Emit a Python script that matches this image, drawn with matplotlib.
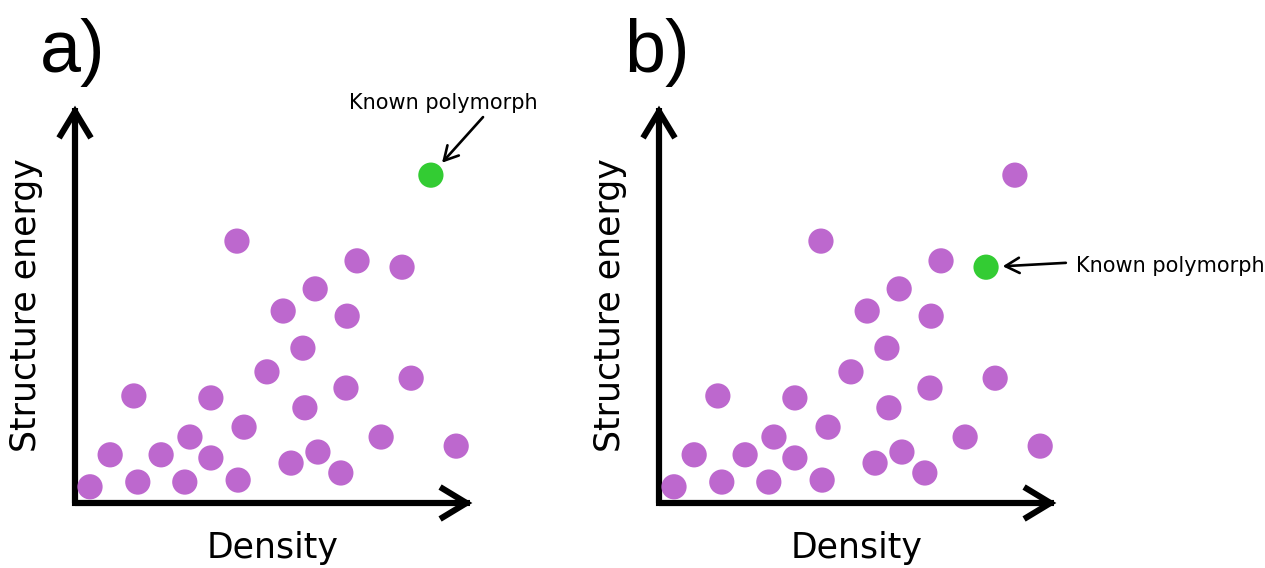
import matplotlib
matplotlib.use("Agg")
import matplotlib.pyplot as plt

# ---- data (arbitrary units, 0-100 along each axis) ----
density = [3.8, 8.9, 15.9, 14.9, 21.8, 27.8, 29.1, 34.4, 34.4, 41.3, 42.8, 41.0, 48.6,
           52.7, 54.7, 57.7, 58.2, 60.8, 61.5, 67.3, 68.6, 68.9, 71.4, 77.5, 85.1, 96.5]
energy = [4.1, 12.2, 5.3, 27.1, 12.2, 5.3, 16.7, 26.6, 11.4, 5.8, 19.2, 66.3, 33.2,
          48.6, 10.1, 39.2, 24.1, 54.2, 12.9, 7.6, 29.1, 47.3, 61.3, 16.7, 31.6, 14.4]

# two special structures: in panel a the known polymorph is the high one,
# in panel b it is the lower one
point_high = (90.1, 83.0)
point_low = (82.8, 59.7)

panel_labels = ["a)", "b)"]
x_label = "Density"
y_label = "Structure energy"
known_label = "Known polymorph"

PURPLE = "#BD68CE"
GREEN = "#33CC33"

W, H = 1265, 568
fig = plt.figure(figsize=(W / 100, H / 100), dpi=100)

panel_left_px = [75, 659]
origin_y_px = 503
size_px = 395


def draw_panel(ax, known, other, text_xy, tail_xy, ha):
    ax.set_xlim(0, 100)
    ax.set_ylim(0, 100)
    ax.axis("off")
    # axes with arrows
    ax.plot([0, 0, 100], [100, 0, 0], color="black", lw=4.4,
            solid_joinstyle="miter", solid_capstyle="butt", clip_on=False)
    for tip in [(100.6, 0), (0, 100.6)]:
        ax.annotate("", xy=tip, xytext=(0, 0), xycoords="data",
                    arrowprops=dict(arrowstyle="->,head_length=1.9,head_width=1.15",
                                    lw=4.4, color="black", shrinkA=0, shrinkB=0,
                                    joinstyle="miter", capstyle="butt"),
                    annotation_clip=False)
    xs = list(density) + [other[0]]
    ys = list(energy) + [other[1]]
    ax.scatter(xs, ys, s=330, color=PURPLE, edgecolors="none", clip_on=False, zorder=3)
    ax.scatter([known[0]], [known[1]], s=330, color=GREEN, edgecolors="none",
               clip_on=False, zorder=3)
    ax.annotate("", xy=known, xytext=tail_xy,
                arrowprops=dict(arrowstyle="->,head_length=1.0,head_width=0.55",
                                lw=1.9, color="black", shrinkA=0, shrinkB=12),
                annotation_clip=False)
    ax.text(text_xy[0], text_xy[1], known_label, fontsize=15, ha=ha, va="baseline",
            family="DejaVu Sans", clip_on=False)
    ax.text(50, -13.9, x_label, fontsize=25, ha="center", va="baseline",
            family="DejaVu Sans", clip_on=False)
    ax.text(-9.9, 50, y_label, fontsize=25, ha="center", va="baseline",
            rotation=90, rotation_mode="anchor", family="DejaVu Sans", clip_on=False)


axes = []
for left in panel_left_px:
    ax = fig.add_axes([left / W, (H - origin_y_px) / H, size_px / W, size_px / H])
    axes.append(ax)

draw_panel(axes[0], point_high, point_low, text_xy=(69.4, 99.7), tail_xy=(103.3, 97.7), ha="left")
draw_panel(axes[1], point_low, point_high, text_xy=(105.6, 58.5), tail_xy=(103.0, 60.8), ha="left")

for left, lab in zip([40, 624], panel_labels):
    fig.text(left / W, 1 - 72 / H, lab, fontsize=53, family="Liberation Sans",
             ha="left", va="baseline")

fig.savefig("out.png", dpi=100)
